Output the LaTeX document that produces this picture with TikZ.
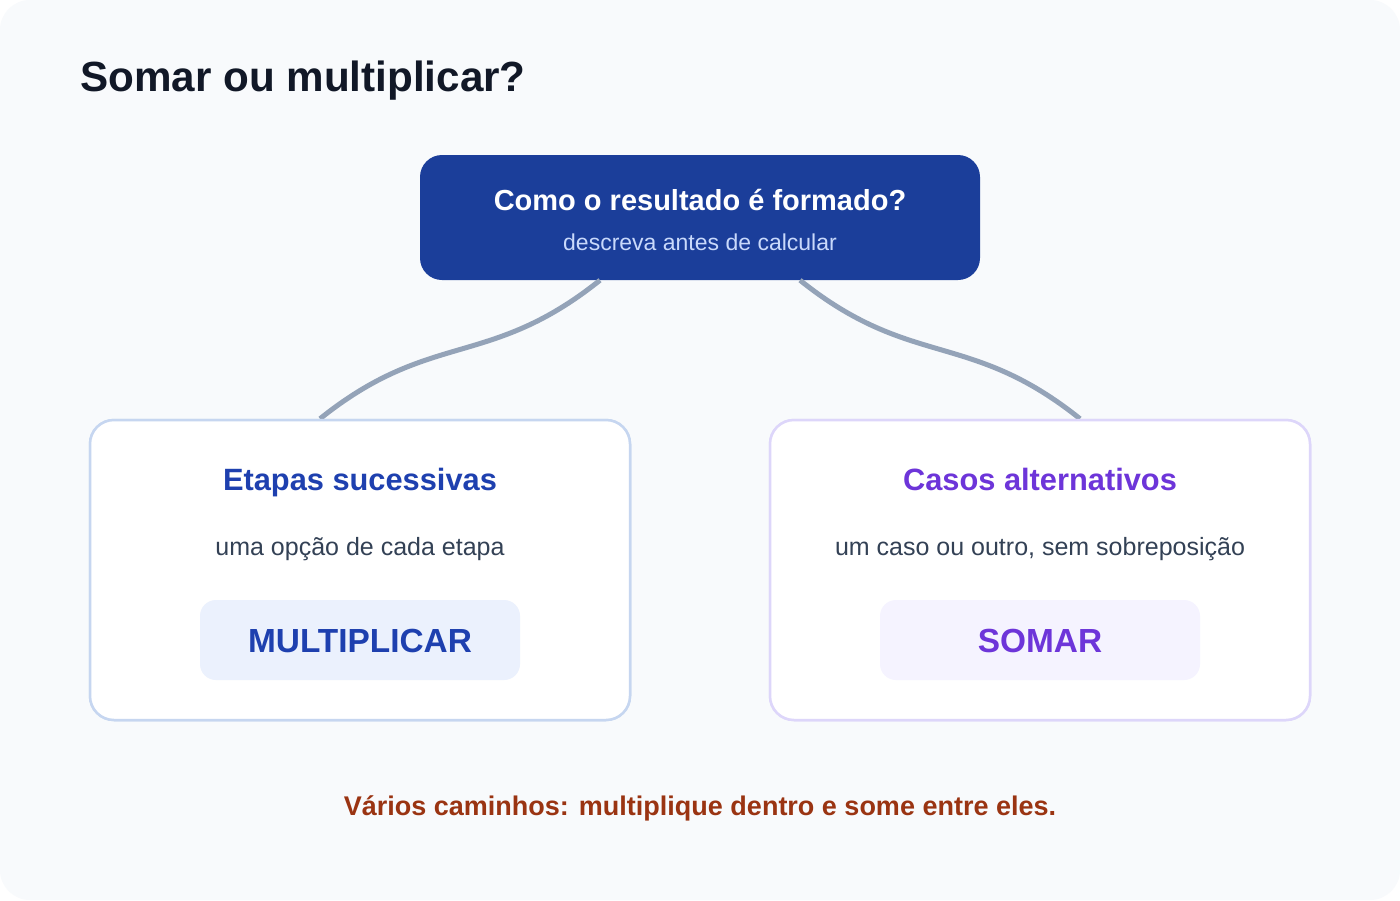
\documentclass[tikz,border=0pt]{standalone}
\usepackage{fontspec}
\setmainfont{Liberation Sans}
\definecolor{bgc}{HTML}{F8FAFC}
\definecolor{titlec}{HTML}{111827}
\definecolor{navy}{HTML}{1B3E9A}
\definecolor{subc}{HTML}{C9D9FB}
\definecolor{connc}{HTML}{94A3B8}
\definecolor{blueborder}{HTML}{C6D6F0}
\definecolor{purpleborder}{HTML}{DDD6FA}
\definecolor{bluetext}{HTML}{1E40AF}
\definecolor{purpletext}{HTML}{6D35D9}
\definecolor{bodyc}{HTML}{334155}
\definecolor{bluepill}{HTML}{EBF1FD}
\definecolor{purplepill}{HTML}{F5F3FF}
\definecolor{notec}{HTML}{9A3412}
\newcommand\setfs[1]{\fontsize{#1}{#1}\selectfont}
\begin{document}
\begin{tikzpicture}[x=1pt,y=-1pt,
  card/.style={draw=#1,line width=2.5pt,fill=white,rounded corners=24pt,minimum width=540pt,minimum height=300pt,inner sep=0pt},
  pillbox/.style={fill=#1,draw=none,rounded corners=16pt,minimum width=320pt,minimum height=80pt,inner sep=0pt},
  conn/.style={draw=connc,line width=5pt},
  txt/.style={anchor=base,inner sep=0pt}]
\useasboundingbox (0,0) rectangle (1400,900);
\fill[white] (0,0) rectangle (1400,900);
\fill[bgc,rounded corners=30pt] (0,0) rectangle (1400,900);

\node[txt,anchor=base west,text=titlec] (title) at (80,91) {\setfs{42.2}\bfseries Somar ou multiplicar?};

\node[fill=navy,rounded corners=22pt,minimum width=560pt,minimum height=125pt,inner sep=0pt] (top) at (700,217.5) {};
\node[txt,text=white] (toph) at (700,210) {\setfs{29}\bfseries Como o resultado é formado?};
\node[txt,text=subc] (tops) at (700,250) {\setfs{23}descreva antes de calcular};

\node[card=blueborder] (left) at (360,570) {};
\node[card=purpleborder] (right) at (1040,570) {};

\draw[conn] ([xshift=-100pt]top.south) .. controls +(-111,89) and +(111,-89) .. ([xshift=-40pt]left.north);
\draw[conn] ([xshift=100pt]top.south) .. controls +(111,89) and +(-111,-89) .. ([xshift=40pt]right.north);
\node[card=blueborder] at (360,570) {};
\node[card=purpleborder] at (1040,570) {};

\node[txt,text=bluetext] (lh) at (360,490) {\setfs{30.8}\bfseries Etapas sucessivas};
\node[txt,text=bodyc] (lb) at (360,555) {\setfs{25}uma opção de cada etapa};
\node[pillbox=bluepill] (lp) at (360,640) {};
\node[txt,text=bluetext] (lpt) at (360,652) {\setfs{33.4}\bfseries MULTIPLICAR};

\node[txt,text=purpletext] (rh) at (1040,490) {\setfs{30.8}\bfseries Casos alternativos};
\node[txt,text=bodyc] (rb) at (1040,555) {\setfs{25}um caso ou outro, sem sobreposição};
\node[pillbox=purplepill] (rp) at (1040,640) {};
\node[txt,text=purpletext] (rpt) at (1040,652) {\setfs{33.4}\bfseries SOMAR};

\node[txt,text=notec] (note) at (700,815) {\setfs{27}\bfseries Vários caminhos: multiplique dentro e some entre eles.};
\end{tikzpicture}
\end{document}
